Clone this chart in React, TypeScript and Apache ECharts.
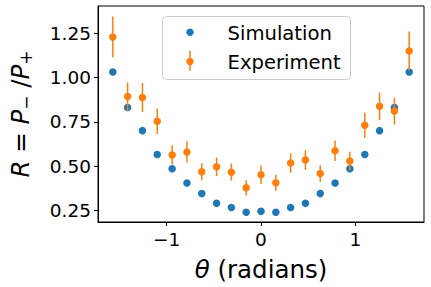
import React, { useEffect, useRef } from "react";
import * as echarts from "echarts";

const theta = [-1.571, -1.414, -1.257, -1.1, -0.942, -0.785, -0.628, -0.471, -0.314, -0.157, 0, 0.157, 0.314, 0.471, 0.628, 0.785, 0.942, 1.1, 1.257, 1.414, 1.571];
const simulation = [1.03, 0.83, 0.7, 0.565, 0.485, 0.405, 0.345, 0.29, 0.267, 0.24, 0.245, 0.24, 0.267, 0.29, 0.345, 0.405, 0.485, 0.565, 0.7, 0.83, 1.03];
const experiment = [1.228, 0.892, 0.887, 0.753, 0.563, 0.58, 0.468, 0.496, 0.466, 0.378, 0.451, 0.406, 0.518, 0.535, 0.458, 0.587, 0.529, 0.73, 0.837, 0.81, 1.149];
const expError = [0.115, 0.08, 0.082, 0.072, 0.055, 0.06, 0.048, 0.052, 0.048, 0.043, 0.052, 0.045, 0.055, 0.055, 0.047, 0.058, 0.052, 0.072, 0.078, 0.075, 0.11];
const xTicks = [-1, 0, 1];
const yTicks = [0.25, 0.5, 0.75, 1.0, 1.25];

const BLUE = "#1f77b4";
const ORANGE = "#ff7f0e";
const FONT = "DejaVu Sans";

export default function App() {
  const ref = useRef<HTMLDivElement>(null);
  useEffect(() => {
    const chart = echarts.init(ref.current!, null, { renderer: "svg" });
    chart.setOption({
      animation: false,
      backgroundColor: "#ffffff",
      grid: { left: 89, right: 7, top: 6, bottom: 63, show: true, borderColor: "#000", borderWidth: 1, backgroundColor: "transparent" },
      xAxis: {
        type: "value",
        min: -1.728,
        max: 1.728,
        name: "{i|θ} (radians)",
        nameLocation: "middle",
        nameGap: 35,
        nameTextStyle: {
          fontFamily: FONT,
          fontSize: 24.5,
          color: "#000",
          rich: { i: { fontFamily: FONT, fontSize: 24.5, fontStyle: "italic", color: "#000" } },
        },
        axisLine: { show: true, onZero: false, lineStyle: { color: "#000", width: 1 } },
        axisTick: { show: true, length: 4, customValues: xTicks, lineStyle: { color: "#000" } },
        axisLabel: {
          customValues: xTicks,
          fontFamily: FONT,
          fontSize: 18.5,
          color: "#000",
          margin: 8,
          formatter: (v: number) => String(v).replace("-", "\u2212"),
        },
        splitLine: { show: false },
      },
      yAxis: {
        type: "value",
        min: 0.185,
        max: 1.4025,
        name: "{i|R} = {i|P}{sub|\u2212} /{i|P}{sub|+}",
        nameLocation: "middle",
        nameRotate: 90,
        nameGap: 64,
        nameTextStyle: {
          fontFamily: FONT,
          fontSize: 24.5,
          color: "#000",
          rich: {
            i: { fontFamily: FONT, fontSize: 24.5, fontStyle: "italic", color: "#000" },
            sub: { fontFamily: FONT, fontSize: 17, color: "#000", padding: [10, 0, 0, 0] },
          },
        },
        axisLine: { show: true, onZero: false, lineStyle: { color: "#000", width: 1 } },
        axisTick: { show: true, length: 4, customValues: yTicks, lineStyle: { color: "#000" } },
        axisLabel: {
          customValues: yTicks,
          fontFamily: FONT,
          fontSize: 18.5,
          color: "#000",
          margin: 7,
          formatter: (v: number) => v.toFixed(2),
        },
        splitLine: { show: false },
      },
      series: [
        {
          name: "Simulation",
          type: "scatter",
          symbol: "circle",
          symbolSize: 7.5,
          itemStyle: { color: BLUE, opacity: 1 },
          data: theta.map((t, i) => [t, simulation[i]]),
          z: 2,
        },
        {
          name: "Experiment error",
          type: "custom",
          data: theta.map((t, i) => [t, experiment[i], expError[i]]),
          renderItem: (params: any, api: any) => {
            const x = api.value(0);
            const y = api.value(1);
            const e = api.value(2);
            const p1 = api.coord([x, y - e]);
            const p2 = api.coord([x, y + e]);
            return {
              type: "line",
              shape: { x1: p1[0], y1: p1[1], x2: p2[0], y2: p2[1] },
              style: { stroke: ORANGE, lineWidth: 1.5 },
            };
          },
          z: 3,
        },
        {
          name: "Experiment",
          type: "scatter",
          symbol: "circle",
          symbolSize: 7.5,
          itemStyle: { color: ORANGE, opacity: 1 },
          data: theta.map((t, i) => [t, experiment[i]]),
          z: 4,
        },
      ],
      graphic: [
        {
          type: "group",
          z: 100,
          children: [
            { type: "rect", shape: { x: 162.5, y: 16.5, width: 188, height: 63, r: 4 }, style: { fill: "rgba(255,255,255,0.8)", stroke: "#cccccc", lineWidth: 1 } },
            { type: "circle", shape: { cx: 190, cy: 32.3, r: 3.7 }, style: { fill: BLUE } },
            { type: "text", x: 227.5, y: 33, style: { text: "Simulation", fontFamily: FONT, fontSize: 19.6, fill: "#000", verticalAlign: "middle", align: "left" } },
            { type: "line", shape: { x1: 190, y1: 50.7, x2: 190, y2: 70.7 }, style: { stroke: ORANGE, lineWidth: 1.5 } },
            { type: "circle", shape: { cx: 190, cy: 61.5, r: 3.7 }, style: { fill: ORANGE } },
            { type: "text", x: 227.5, y: 62, style: { text: "Experiment", fontFamily: FONT, fontSize: 19.6, fill: "#000", verticalAlign: "middle", align: "left" } },
          ],
        },
      ],
    });
    return () => chart.dispose();
  }, []);
  return <div ref={ref} style={{ width: 431, height: 287, position: "absolute", left: 0, top: 0 }} />;
}
